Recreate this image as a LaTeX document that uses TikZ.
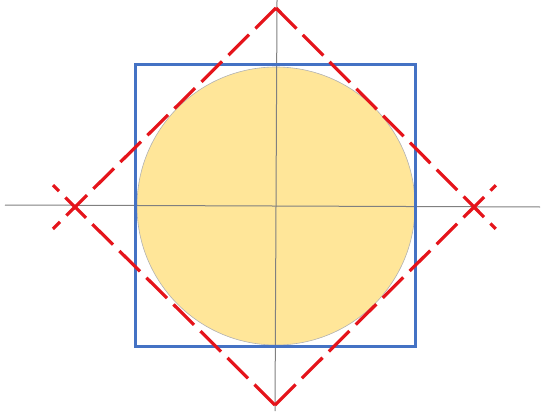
\documentclass[tikz,border=0pt]{standalone}
\usetikzlibrary{calc}
\definecolor{squareblue}{HTML}{4472C4}
\definecolor{diamondred}{HTML}{E5141B}
\definecolor{discfill}{HTML}{FFE699}
\definecolor{axisgray}{HTML}{808080}
\begin{document}
\begin{tikzpicture}[
  x=.5pt,y=-.5pt,
  line cap=butt,line join=miter,
  disc/.style={fill=discfill,draw=gray!60,line width=.3pt},
  axis/.style={draw=axisgray,line width=.5pt},
  frame/.style={draw=squareblue,line width=1.5pt},
  redge/.style={draw=diamondred,line width=1.6pt,dash pattern=on 14.5pt off 4.5pt}
]
\useasboundingbox (0,0) rectangle (544,411);

% centre and diamond corners
\coordinate (c) at (276,206);
\coordinate (top) at (276,8);
\coordinate (bot) at (275,405);
\coordinate (lft) at (75,207);
\coordinate (rgt) at (474,207);

% inscribed disc
\fill[disc] (c) circle (139);

% axes
\draw[axis] (5,205) -- (540,207);
\draw[axis] (277,0) -- (275,411);

% square
\draw[frame] (135,65) rectangle (415,346);

% dashed diamond, edges run past the side corners
\draw[redge] (top) -- ($(top)!1.11!(lft)$);
\draw[redge] (top) -- ($(top)!1.11!(rgt)$);
\draw[redge] (bot) -- ($(bot)!1.11!(lft)$);
\draw[redge] (bot) -- ($(bot)!1.11!(rgt)$);
\end{tikzpicture}
\end{document}
